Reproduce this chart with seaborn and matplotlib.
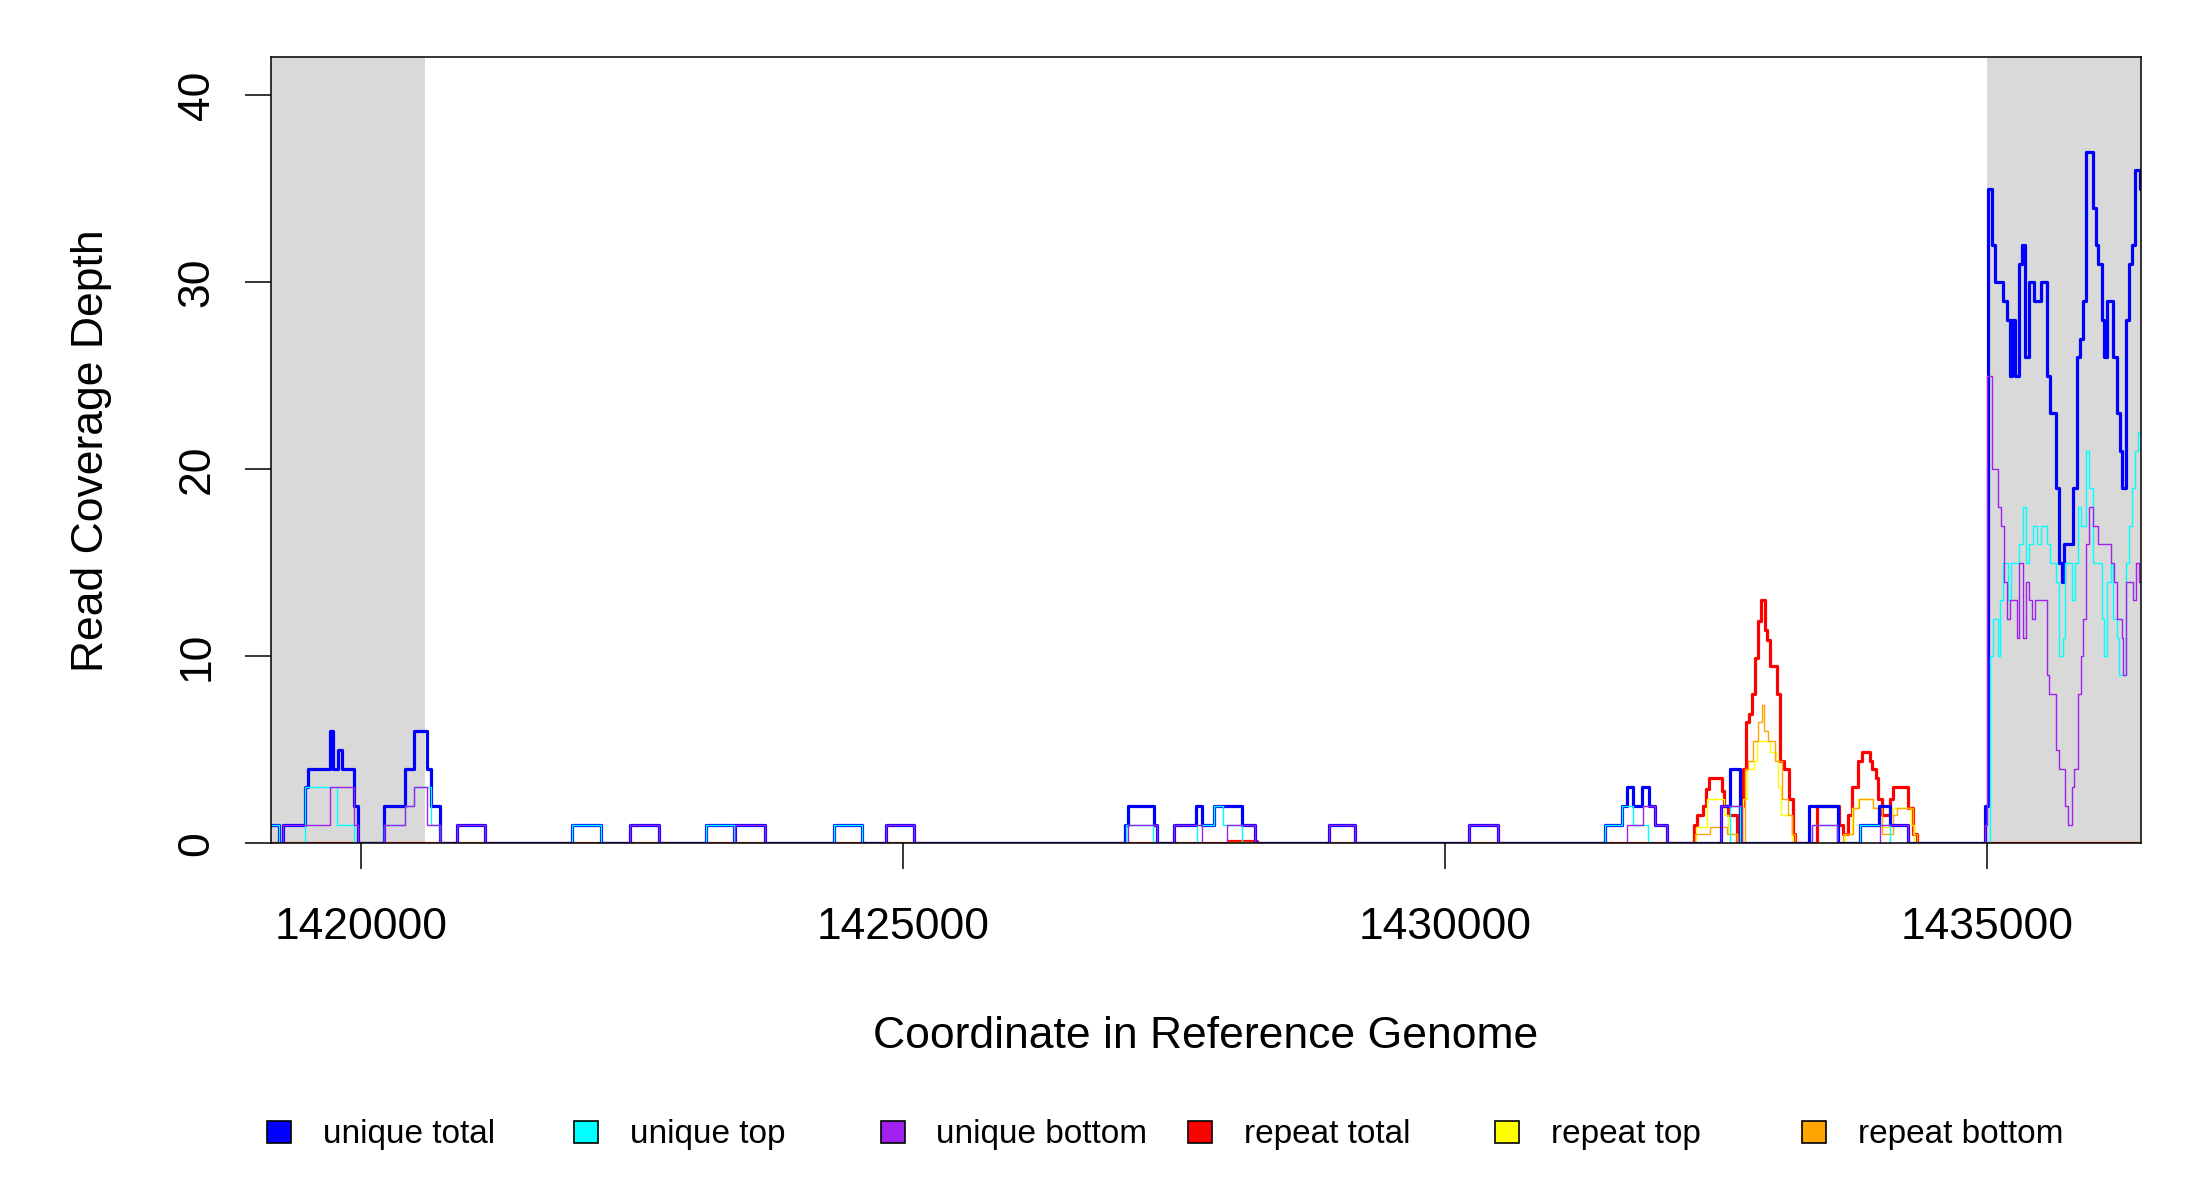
import matplotlib
matplotlib.use('Agg')
import matplotlib.pyplot as plt
from matplotlib.patches import Rectangle
import seaborn as sns

# --------------------------------------------------
# window shown and the two shaded flanks (bp)
view_start, view_end = 1419172, 1436424
flank_left_end, flank_right_start = 1420595, 1435000
x_ticks = [1420000, 1425000, 1430000, 1435000]
y_ticks = [0, 10, 20, 30, 40]
y_max = 42.03

# unique total
ut_pos = [1419172, 1419246, 1419286, 1419486, 1419516, 1419716, 1419747,
          1419793, 1419824, 1419941, 1419978, 1420215, 1420408, 1420491,
          1420608, 1420645, 1420731, 1420885, 1421146, 1421952, 1422214,
          1422484, 1422752, 1423185, 1423444, 1423456, 1423730, 1424366,
          1424628, 1424843, 1425104, 1427051, 1427082, 1427319, 1427343,
          1427503, 1427703, 1427765, 1427872, 1428127, 1428250, 1428936,
          1429173, 1430225, 1430490, 1431480, 1431633, 1431679, 1431741,
          1431818, 1431888, 1431941, 1432055, 1432550, 1432633, 1432725,
          1433362, 1433632, 1433832, 1434007, 1434109, 1434278, 1434985,
          1435016, 1435047, 1435078, 1435155, 1435191, 1435216, 1435231,
          1435262, 1435299, 1435324, 1435354, 1435391, 1435437, 1435502,
          1435554, 1435585, 1435640, 1435671, 1435693, 1435717, 1435800,
          1435831, 1435862, 1435893, 1435917, 1435979, 1436006, 1436031,
          1436062, 1436083, 1436114, 1436169, 1436200, 1436231, 1436252,
          1436283, 1436317, 1436345, 1436369, 1436415, 1436424]
ut_depth = [1, 0, 1, 3, 4, 6, 4, 5, 4, 2, 0, 2, 4, 6, 4, 2, 0, 1, 0,
            1, 0, 1, 0, 1, 0, 1, 0, 1, 0, 1, 0,
            1, 2, 1, 0, 1, 2, 1, 2, 1, 0, 1, 0, 1, 0,
            1, 2, 3, 2, 3, 2, 1, 0, 2, 4, 0, 2, 0, 1, 2, 1, 0,
            2, 35, 32, 30, 29, 28, 25, 28, 25, 31, 32, 26, 30, 29, 30, 25,
            23, 19, 15, 14, 16, 19, 26, 27, 29, 37, 34, 32, 31, 28, 26, 29,
            26, 23, 21, 19, 28, 31, 32, 36, 35, 35]

# unique top strand
utop_pos = [1419172, 1419246, 1419486, 1419778, 1419941, 1420215, 1420408,
            1420491, 1420645, 1420731, 1421952, 1422214, 1423185, 1423444,
            1424366, 1424628, 1427060, 1427312, 1427712, 1427872, 1427958,
            1428127, 1431480, 1431633, 1431741, 1431879, 1432633, 1432725,
            1433386, 1433617, 1433832, 1434109, 1435032, 1435062, 1435102,
            1435124, 1435155, 1435201, 1435222, 1435302, 1435333, 1435364,
            1435394, 1435425, 1435468, 1435499, 1435554, 1435585, 1435640,
            1435671, 1435702, 1435723, 1435785, 1435816, 1435840, 1435868,
            1435917, 1435948, 1435979, 1436062, 1436083, 1436114, 1436145,
            1436169, 1436200, 1436225, 1436286, 1436317, 1436339, 1436369,
            1436400, 1436424]
utop_depth = [1, 0, 3, 1, 0, 1, 2, 3, 1, 0, 1, 0, 1, 0, 1, 0, 1, 0,
              1, 2, 1, 0, 1, 2, 1, 0, 2, 0, 1, 0, 1, 0,
              10, 12, 10, 13, 15, 13, 15, 16, 18, 15, 16, 17, 16, 17, 16,
              15, 14, 10, 11, 15, 13, 15, 18, 17, 21, 19, 15, 12, 10, 14,
              15, 12, 11, 9, 15, 17, 19, 21, 22, 22]

# unique bottom strand
ubot_pos = [1419172, 1419286, 1419716, 1419941, 1419978, 1420215, 1420408,
            1420491, 1420608, 1420731, 1420885, 1421146, 1422484, 1422752,
            1423456, 1423730, 1424843, 1425104, 1427076, 1427343, 1427503,
            1427758, 1427989, 1428250, 1428936, 1429173, 1430225, 1430490,
            1431679, 1431827, 1431941, 1432055, 1432550, 1432740, 1433386,
            1433617, 1434017, 1434278, 1434985, 1435007, 1435047, 1435108,
            1435133, 1435164, 1435185, 1435216, 1435278, 1435302, 1435339,
            1435364, 1435394, 1435416, 1435447, 1435554, 1435579, 1435640,
            1435668, 1435723, 1435754, 1435785, 1435810, 1435840, 1435868,
            1435893, 1435917, 1435948, 1435985, 1436031, 1436145, 1436176,
            1436200, 1436246, 1436262, 1436286, 1436348, 1436379, 1436409,
            1436424]
ubot_depth = [0, 1, 3, 1, 0, 1, 2, 3, 1, 0, 1, 0, 1, 0, 1, 0, 1, 0,
              1, 0, 1, 0, 1, 0, 1, 0, 1, 0, 1, 2, 1, 0, 2, 0, 1, 0, 1, 0,
              1, 25, 20, 18, 17, 14, 12, 13, 11, 15, 11, 14, 13, 12, 13, 9,
              8, 5, 4, 2, 1, 3, 4, 8, 10, 12, 16, 18, 17, 16, 15, 14, 12,
              11, 9, 14, 13, 15, 14, 14]

# repeat total
rt_pos = [1419172, 1428004, 1428265, 1432304, 1432331, 1432381, 1432408,
          1432442, 1432556, 1432581, 1432617, 1432694, 1432725, 1432750,
          1432780, 1432811, 1432833, 1432863, 1432894, 1432916, 1432956,
          1432977, 1433002, 1433063, 1433094, 1433131, 1433177, 1433211,
          1433232, 1433438, 1433641, 1433672, 1433724, 1433755, 1433817,
          1433848, 1433924, 1433946, 1433980, 1434001, 1434032, 1434109,
          1434134, 1434278, 1434324, 1434355, 1436424]
rt_depth = [0, 0.15, 0, 1.0, 1.5, 2.0, 2.9, 3.5, 2.8, 2.0, 1.5, 0,
            2.0, 4.0, 6.5, 6.9, 8.0, 9.9, 11.9, 13.0, 11.4, 10.9, 9.5, 8.0,
            4.4, 4.0, 2.4, 0.5, 0, 2.0, 1.0, 0.5, 1.5, 3.0, 4.4, 4.9, 4.4,
            4.0, 3.5, 2.4, 1.5, 2.4, 3.0, 1.9, 0.5, 0, 0]

# repeat top strand
rtop_pos = [1419172, 1432319, 1432417, 1432577, 1432617, 1432694, 1432756,
            1432793, 1432857, 1432879, 1433002, 1433054, 1433079, 1433100,
            1433202, 1433694, 1433755, 1433817, 1433955, 1434017, 1434109,
            1434140, 1434300, 1434330, 1436424]
rtop_depth = [0, 0.9, 2.4, 1.5, 0.5, 0, 2.4, 4.0, 4.4, 5.5, 4.9, 4.4, 3.0,
              1.5, 0, 0.5, 1.9, 2.4, 1.9, 0.9, 1.5, 1.9, 1.0, 0, 0]

# repeat bottom strand
rbot_pos = [1419172, 1428004, 1428265, 1432310, 1432448, 1432602, 1432694,
            1432771, 1432802, 1432848, 1432888, 1432925, 1432950, 1432986,
            1433048, 1433109, 1433171, 1433202, 1433232, 1433672, 1433771,
            1433823, 1433955, 1434032, 1434140, 1434170, 1434324, 1434355,
            1436424]
rbot_depth = [0, 0.1, 0, 0.5, 0.9, 0.5, 0, 4.0, 4.4, 5.5, 6.5, 7.4, 6.0,
              5.5, 4.4, 2.4, 1.5, 0.5, 0, 0.5, 1.9, 2.4, 1.9, 0.5, 1.5, 1.9,
              0.5, 0, 0]

labels = ['unique total', 'unique top', 'unique bottom',
          'repeat total', 'repeat top', 'repeat bottom']
colors = ['#0000FF', '#00FFFF', '#A020F0', '#FF0000', '#FFFF00', '#FFA500']
series = [(ut_pos, ut_depth), (utop_pos, utop_depth), (ubot_pos, ubot_depth),
          (rt_pos, rt_depth), (rtop_pos, rtop_depth), (rbot_pos, rbot_depth)]
widths = [2.3, 1.0, 1.0, 2.3, 1.0, 1.0]


# --------------------------------------------------
def main():
    sns.set_style('white')
    plt.rcParams['font.family'] = ['Liberation Sans', 'DejaVu Sans']
    plt.rcParams['text.color'] = 'black'
    plt.rcParams['axes.labelcolor'] = 'black'

    fig = plt.figure(figsize=(22, 12), dpi=100)
    ax = fig.add_axes([0.1232, 0.2971, 0.85, 0.655])

    ax.axvspan(view_start, flank_left_end, color='#D9D9D9', lw=0, zorder=0)
    ax.axvspan(flank_right_start, view_end, color='#D9D9D9', lw=0, zorder=0)

    # repeats go underneath, unique on top
    for z, i in enumerate([3, 4, 5, 0, 1, 2]):
        pos, depth = series[i]
        sns.lineplot(x=pos, y=depth, ax=ax, color=colors[i], lw=widths[i],
                     drawstyle='steps-post', estimator=None, sort=False,
                     zorder=2 + z)

    ax.set_xlim(view_start, view_end)
    ax.set_ylim(0, y_max)
    ax.set_xticks(x_ticks)
    ax.set_xticklabels([str(t) for t in x_ticks])
    ax.set_yticks(y_ticks)
    ax.set_yticklabels([str(t) for t in y_ticks], rotation=90, va='center')

    for sp in ax.spines.values():
        sp.set_visible(True)
        sp.set_color('black')
        sp.set_linewidth(1.1)
        sp.set_zorder(10)

    ax.tick_params(axis='both', direction='out', length=18.5, width=1.1,
                   colors='black', labelcolor='black', labelsize=32)
    ax.tick_params(axis='x', pad=27, bottom=True)
    ax.tick_params(axis='y', pad=20, left=True)

    ax.set_xlabel('Coordinate in Reference Genome', fontsize=32,
                  color='black')
    ax.set_ylabel('Read Coverage Depth', fontsize=32, color='black')
    ax.xaxis.set_label_coords(0.5, -0.219)
    ax.yaxis.set_label_coords(-0.085, 0.5)

    # horizontal legend under the plot, equal column widths like base R
    for i, lab in enumerate(labels):
        cx = (279 + i * 307.0) / 2200
        fig.patches.append(Rectangle((cx - 12 / 2200, (1200 - 1143) / 1200),
                                     24 / 2200, 22 / 1200,
                                     facecolor=colors[i], edgecolor='black',
                                     lw=1.2, transform=fig.transFigure))
        fig.text(cx + 43.5 / 2200, (1200 - 1134) / 1200, lab, fontsize=24,
                 ha='left', va='center', color='black')

    fig.savefig('out.png', dpi=100)


# --------------------------------------------------
if __name__ == '__main__':
    main()
